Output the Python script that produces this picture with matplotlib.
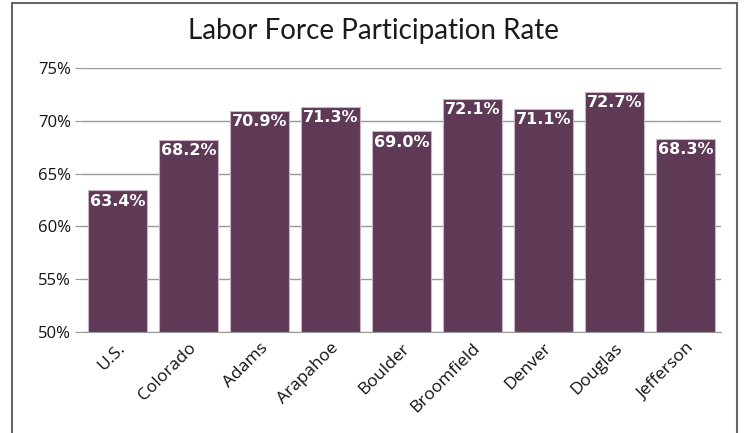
import matplotlib.pyplot as plt
from matplotlib.patches import Rectangle

counties = ['U.S.', 'Colorado', 'Adams', 'Arapahoe', 'Boulder',
            'Broomfield', 'Denver', 'Douglas', 'Jefferson']
rates = [63.4, 68.2, 70.9, 71.3, 69.0, 72.1, 71.1, 72.7, 68.3]
yticks = [50, 55, 60, 65, 70, 75]

bar_color = '#5e3a57'

fig = plt.figure(figsize=(7.46, 4.33), dpi=100)
ax = fig.add_axes([82 / 746, 1 - 332 / 433, (721 - 82) / 746, (332 - 68) / 433])

x = range(len(counties))
ax.bar(x, [r - 50 for r in rates], bottom=50, width=0.84, color=bar_color,
       edgecolor='#c9b3c5', linewidth=0.8, zorder=3)

for i, r in enumerate(rates):
    ax.text(i, r - 0.3, f'{r:.1f}%', ha='center', va='top', color='white',
            fontsize=11.5, fontweight='bold', family='DejaVu Sans', zorder=4)

ax.set_xlim(-0.5, len(counties) - 0.5)
ax.set_ylim(50, 75)
ax.set_yticks(yticks)
ax.set_yticklabels([f'{t}%' for t in yticks], fontsize=12, color='#111111',
                   family='Open Sans')
ax.yaxis.grid(True, color='#999999', linewidth=1, zorder=0)
ax.set_xticks(list(x))
ax.set_xticklabels(counties, rotation=45, ha='right', rotation_mode='anchor',
                   fontsize=12.5, color='#111111', family='Open Sans')
ax.tick_params(axis='x', length=0, pad=6)
ax.tick_params(axis='y', length=5, color='#999999', pad=3)
for s in ['top', 'right', 'left']:
    ax.spines[s].set_visible(False)
ax.spines['bottom'].set_color('#999999')

fig.text(0.5, 1 - 31 / 433, 'Labor Force Participation Rate', ha='center',
         va='center', fontsize=20, color='#1a1a1a', family='Lato')

fig.patches.append(Rectangle((12 / 746, -0.05), (737 - 12) / 746, 1.05 - 3 / 433,
                             transform=fig.transFigure, fill=False,
                             edgecolor='#666666', linewidth=1.5))

fig.savefig('out.png', dpi=100)
